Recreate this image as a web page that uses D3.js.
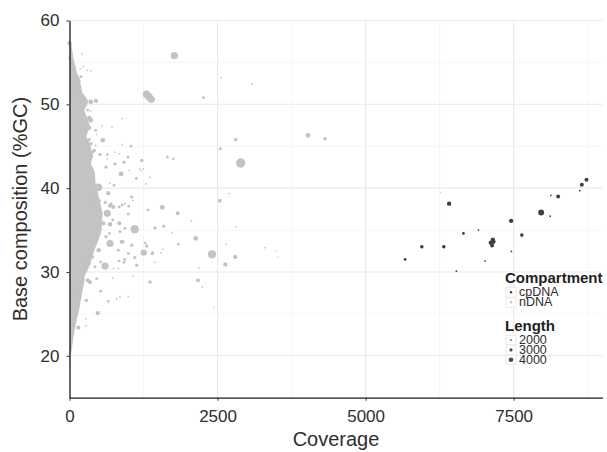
<!DOCTYPE html>
<html>
<head>
<meta charset="utf-8">
<script src="https://cdn.jsdelivr.net/npm/d3@7"></script>
<style>
  body { margin: 0; background: #fff; }
  svg text { font-family: "Liberation Sans", Arial, sans-serif; }
</style>
</head>
<body>
<div id="chart"></div>
<script>
// ---- data ----
var xTicks = [0, 2500, 5000, 7500];
var xMinor = [1250, 3750, 6250, 8750];
var yTicks = [20, 30, 40, 50, 60];
var yMinor = [25, 35, 45, 55];
var lengthBreaks = [2000, 3000, 4000];
var compartments = ["cpDNA", "nDNA"];

// dense nDNA cloud near zero coverage: outline of the solid mass [coverage, %GC]
var nDNAcloud = [[0, 57.6], [30, 57.4], [45, 56.5], [65, 55.5], [100, 54.6], [125, 53.7], [170, 53.2],
  [185, 52.5], [215, 51.4], [270, 50.9], [320, 50.3], [250, 49.3], [290, 48.5], [350, 47.3],
  [280, 46.2], [340, 45.4], [400, 43.8], [360, 43.0], [430, 41.8], [440, 40.6], [510, 38.5],
  [560, 37.0], [540, 35.0], [490, 33.8], [420, 32.6], [360, 31.2], [320, 30.4], [260, 29.6],
  [245, 28.6], [215, 27.6], [190, 26.6], [155, 25.2], [125, 24.4], [95, 23.4], [65, 22.2],
  [45, 21.0], [20, 20.0], [10, 19.0], [0, 18.4]];

// scattered nDNA contigs [coverage, %GC, length]
var nDNA = [
  [0, 57.3, 3500], [20, 55.5, 3500],
  [1770, 55.8, 5400], [2564, 53.2, 1900], [3082, 52.4, 1900],
  [1300, 51.2, 5600], [1340, 50.9, 5600], [1380, 50.6, 5400],
  [2260, 50.8, 2600], [2807, 45.8, 3100], [4028, 46.3, 3900], [4315, 45.9, 3100],
  [2547, 44.7, 2600], [1652, 43.7, 2600], [1753, 43.5, 2400], [2891, 43.0, 6800],
  [1360, 41.3, 1900], [2699, 39.35, 1900], [2537, 38.5, 3300], [1567, 37.7, 3900],
  [1827, 37.0, 3300], [2057, 36.1, 1900], [2807, 35.4, 1900], [1444, 35.25, 2900],
  [1591, 35.45, 2900], [1736, 34.7, 1900], [2131, 34.0, 3900], [1838, 33.3, 2600],
  [2648, 33.3, 1900], [3302, 32.9, 1900], [3483, 32.5, 1700], [3517, 31.8, 1700],
  [1405, 32.3, 2600], [1574, 32.7, 1900], [1545, 32.3, 1900], [2407, 32.1, 6000],
  [2800, 31.8, 3600], [2631, 30.9, 3600], [1439, 31.15, 1900], [2187, 30.5, 1900],
  [1360, 28.8, 3100], [2170, 29.0, 3300], [2243, 28.2, 1900], [2436, 25.8, 1800],
  [6263, 39.5, 1700],
  [1219, 43.3, 2900], [1186, 42.3, 1900], [1208, 42.1, 1900], [1128, 41.15, 2600],
  [1365, 41.3, 1900], [1292, 40.5, 1900], [1050, 38.95, 2900], [1067, 38.5, 1900],
  [1326, 37.4, 2600], [1101, 35.1, 6200], [1050, 33.2, 2900], [1304, 33.1, 2900],
  [1253, 32.3, 4800], [1398, 32.2, 2900], [1101, 31.7, 2900], [1135, 30.8, 2900],
  [1073, 29.5, 1900],
  [216, 56.0, 1900], [182, 54.2, 1900], [301, 54.05, 1900], [358, 54.0, 1900],
  [233, 54.5, 1900], [110, 53.2, 1900], [177, 52.85, 1900], [138, 52.2, 2600],
  [189, 51.1, 1900], [358, 50.3, 3900], [448, 50.4, 3500], [257, 49.8, 2600],
  [358, 49.2, 1900], [892, 48.3, 1900], [334, 48.35, 3900], [358, 48.1, 3900],
  [544, 47.4, 1900], [442, 46.9, 2600], [334, 47.2, 3500], [718, 47.3, 1900],
  [561, 45.7, 3900], [334, 45.8, 2900], [442, 45.1, 1900], [892, 45.2, 1900],
  [515, 44.0, 2900], [392, 44.3, 2900], [638, 43.5, 1900], [768, 42.9, 2900],
  [920, 43.1, 2900], [616, 42.5, 2900], [988, 43.7, 2600], [870, 41.7, 3900],
  [1246, 42.3, 1900], [1010, 42.1, 1900], [679, 40.6, 1900], [752, 40.35, 2600],
  [486, 40.1, 5800], [655, 39.4, 3500], [503, 38.5, 2900], [937, 38.2, 1900],
  [740, 37.75, 3300], [638, 37.0, 5400], [1039, 45.0, 2600], [763, 44.3, 1900],
  [836, 44.1, 1900], [638, 44.0, 2600],
  [892, 38.0, 2600], [1000, 37.85, 2600], [841, 35.8, 3500], [729, 36.2, 2600],
  [571, 35.8, 3500], [853, 34.8, 2600], [937, 35.2, 2600], [672, 34.6, 2600],
  [909, 33.6, 2600], [1275, 33.45, 2600], [684, 33.4, 5400], [824, 32.6, 2600],
  [993, 32.2, 2600], [836, 31.3, 2600], [932, 31.5, 2600], [920, 31.15, 2600],
  [600, 30.7, 5400], [527, 31.2, 2600], [740, 30.4, 1900], [824, 30.4, 1900],
  [346, 28.8, 3500], [459, 29.2, 2600], [729, 29.3, 1900], [290, 26.6, 2600],
  [655, 26.5, 2600], [797, 26.8, 1900], [853, 27.0, 1900], [993, 27.1, 1900],
  [476, 25.1, 3500], [279, 24.4, 1900], [149, 23.35, 3500], [279, 23.6, 1900],
  [37, 22.2, 2600], [993, 36.9, 2600], [684, 37.9, 3500], [937, 38.16, 1900],
  [431, 30.6, 2600], [527, 27.7, 2600], [189, 27.8, 2600], [881, 33.6, 3500],
  // ragged edge of the dense mass
  [194, 53.3, 2600], [177, 52.1, 2600], [307, 49.3, 2600], [459, 46.4, 1900],
  [363, 45.3, 2900], [419, 44.5, 2900], [605, 38.3, 2900], [392, 38.75, 2900],
  [503, 37.75, 2900], [701, 38.1, 2900], [841, 37.75, 2600], [476, 36.2, 3900],
  [684, 35.7, 3600], [503, 34.6, 2900], [616, 34.2, 2900], [701, 33.6, 2600],
  [493, 32.6, 3600], [392, 31.8, 2900], [334, 31.0, 2900], [307, 29.0, 3500],
  [279, 26.6, 2600]
];

// chloroplast contigs [coverage, %GC, length]
var cpDNA = [
  [8729, 41.0, 3300], [8651, 40.4, 3300], [8617, 39.7, 1900], [8127, 39.15, 1900],
  [8251, 39.0, 3300], [6410, 38.15, 3600], [7964, 37.1, 4600], [8116, 36.65, 1900],
  [7457, 36.1, 3600], [6651, 34.6, 2600], [6905, 35.0, 1900], [7638, 34.4, 3100],
  [7114, 33.5, 3600], [7148, 33.85, 3600], [7136, 33.15, 3300], [7158, 33.6, 3600],
  [5949, 33.0, 3100], [6320, 33.0, 3100], [7462, 32.45, 1900], [5667, 31.5, 2600],
  [7018, 31.3, 1900], [6533, 30.1, 1900]
];

// ---- layout ----
var W = 607, H = 452;
var padL = 69.5, padR = 602.5, padT = 20.5, padB = 397.7;
var nGrey = "#c3c3c3", cpGrey = "#3f3f3f", textCol = "#2e2e2e";

var svg = d3.select("#chart").append("svg")
    .attr("width", W).attr("height", H);

var x = d3.scaleLinear().domain([0, 9000]).range([padL, padR]);
var y = d3.scaleLinear().domain([15, 60]).range([padB, padT]);
var r = d3.scaleLinear().domain([2000, 4000]).range([0.95, 2.5]);

// grid
var grid = svg.append("g");
grid.selectAll(".xminor").data(xMinor).enter().append("line")
    .attr("x1", d => x(d)).attr("x2", d => x(d)).attr("y1", padT).attr("y2", padB)
    .attr("stroke", "#f4f4f4").attr("stroke-width", 0.8);
grid.selectAll(".yminor").data(yMinor).enter().append("line")
    .attr("y1", d => y(d)).attr("y2", d => y(d)).attr("x1", padL).attr("x2", padR)
    .attr("stroke", "#f4f4f4").attr("stroke-width", 0.8);
grid.selectAll(".xmajor").data(xTicks.slice(1)).enter().append("line")
    .attr("x1", d => x(d)).attr("x2", d => x(d)).attr("y1", padT).attr("y2", padB)
    .attr("stroke", "#e9e9e9").attr("stroke-width", 1.1);
grid.selectAll(".ymajor").data(yTicks).enter().append("line")
    .attr("y1", d => y(d)).attr("y2", d => y(d)).attr("x1", padL).attr("x2", padR)
    .attr("stroke", "#e9e9e9").attr("stroke-width", 1.1);

// dense nDNA mass
svg.append("path")
    .datum(nDNAcloud)
    .attr("fill", nGrey)
    .attr("d", d3.line()
        .x(function(d) { return x(d[0]); })
        .y(function(d) { return y(d[1]); })
        .curve(d3.curveLinearClosed));

// scattered points
svg.append("g").selectAll("circle").data(nDNA).enter().append("circle")
    .attr("cx", d => x(d[0])).attr("cy", d => y(d[1])).attr("r", d => r(d[2]))
    .attr("fill", nGrey);
svg.append("g").selectAll("circle").data(cpDNA).enter().append("circle")
    .attr("cx", d => x(d[0])).attr("cy", d => y(d[1])).attr("r", d => r(d[2]))
    .attr("fill", cpGrey);

// axes
var xAxis = svg.append("g")
    .attr("transform", "translate(0," + padB + ")")
    .call(d3.axisBottom(x).tickValues(xTicks).tickFormat(d3.format("d"))
        .tickSize(3).tickPadding(9).tickSizeOuter(0));
var yAxis = svg.append("g")
    .attr("transform", "translate(" + padL + ",0)")
    .call(d3.axisLeft(y).tickValues(yTicks).tickFormat(d3.format("d"))
        .tickSize(3).tickPadding(7).tickSizeOuter(0));
[xAxis, yAxis].forEach(function(a) {
  a.select(".domain").attr("stroke", "#1a1a1a").attr("stroke-width", 1.3);
  a.selectAll(".tick line").attr("stroke", "#333");
  a.selectAll(".tick text").attr("fill", textCol)
    .style("font-size", "17px").style("font-family", "'Liberation Sans', Arial, sans-serif");
});

// axis titles
svg.append("text")
    .attr("x", (padL + padR) / 2).attr("y", 446)
    .attr("text-anchor", "middle")
    .attr("fill", textCol)
    .style("font-size", "20px")
    .text("Coverage");
svg.append("text")
    .attr("transform", "translate(27," + ((padT + padB) / 2) + ") rotate(-90)")
    .attr("text-anchor", "middle")
    .attr("fill", textCol)
    .style("font-size", "20px")
    .text("Base composition (%GC)");

// legend: compartment
var lg = svg.append("g");
lg.append("text").attr("x", 505).attr("y", 282.5)
    .style("font-size", "15px").style("font-weight", "bold").attr("fill", "#1f1f1f")
    .text("Compartment");
var compCol = {cpDNA: cpGrey, nDNA: nGrey};
compartments.forEach(function(c, i) {
  var yy = 287.3 + i * 10;
  lg.append("rect").attr("x", 506).attr("y", yy).attr("width", 10).attr("height", 10)
    .attr("fill", "#fff").attr("stroke", "#e3e3e3").attr("stroke-width", 0.8);
  lg.append("circle").attr("cx", 511).attr("cy", yy + 5).attr("r", 1.2).attr("fill", compCol[c]);
  lg.append("text").attr("x", 519).attr("y", yy + 8.5)
    .style("font-size", "12.5px").attr("fill", textCol).text(c);
});

// legend: length
lg.append("text").attr("x", 505).attr("y", 331)
    .style("font-size", "15px").style("font-weight", "bold").attr("fill", "#1f1f1f")
    .text("Length");
lengthBreaks.forEach(function(l, i) {
  var yy = 335.2 + i * 9.8;
  lg.append("rect").attr("x", 506).attr("y", yy).attr("width", 10).attr("height", 9.8)
    .attr("fill", "#fff").attr("stroke", "#e3e3e3").attr("stroke-width", 0.8);
  lg.append("circle").attr("cx", 511).attr("cy", yy + 4.9).attr("r", r(l) * 0.92).attr("fill", "#4a4a4a");
  lg.append("text").attr("x", 519).attr("y", yy + 9.2)
    .style("font-size", "12.5px").attr("fill", textCol).text(d3.format("d")(l));
});
</script>
</body>
</html>
